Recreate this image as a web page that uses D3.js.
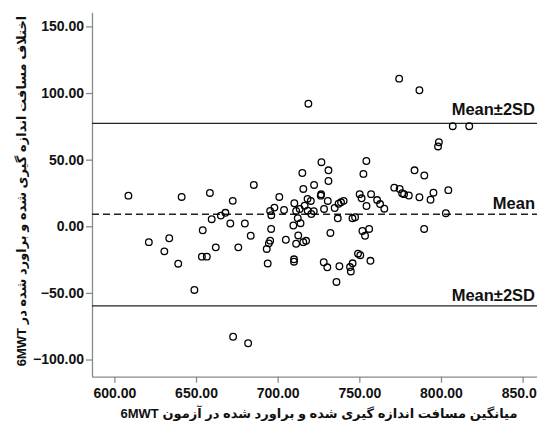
<!DOCTYPE html>
<html>
<head>
<meta charset="utf-8">
<script src="https://cdn.jsdelivr.net/npm/d3@7"></script>
<style>
  body { margin: 0; background: #fff; }
  text { font-family: "Liberation Sans", "DejaVu Sans", Arial, sans-serif; }
</style>
</head>
<body>
<div id="chart"></div>
<script>
// Bland-Altman plot: mean of measured & estimated 6MWT vs their difference

// x = mean of the two measurements, y = difference
const meanVals = [
  608.6, 621.1, 630.6, 633.6, 639.1, 641.2, 649.0, 654.1, 653.6, 656.6,
  658.5, 659.6, 662.1, 665.2, 668.0, 671.0, 672.5, 672.7, 675.9, 679.9,
  681.9, 683.5, 685.4, 693.3, 694.6, 695.4, 693.9, 695.4, 696.1, 698.0,
  701.0, 703.9, 696.0, 705.0, 710.2, 711.3, 712.3, 713.5, 709.6, 714.0,
  712.6, 711.3, 715.7, 717.4, 710.0, 710.0, 715.1, 715.7, 716.5, 718.3,
  720.3, 718.4, 722.1, 720.6, 718.8, 722.3, 726.8, 726.6, 726.4, 730.7,
  731.1, 731.1, 728.4, 734.9, 737.3, 738.8, 740.4, 732.3, 736.8, 745.8,
  747.4, 728.2, 730.4, 737.8, 744.3, 744.8, 745.9, 749.2, 750.6, 756.8,
  736.0, 750.2, 751.4, 752.5, 754.3, 754.4, 757.2, 760.9, 762.7, 765.3,
  751.9, 753.5, 756.0, 771.4, 774.7, 776.2, 777.4, 780.3, 783.8, 789.8,
  786.8, 795.4, 793.6, 804.5, 803.0, 789.7, 774.4, 786.8, 798.7, 798.2,
  807.2, 817.3
];
const diffVals = [
  23.0, -11.9, -18.8, -9.0, -28.1, 22.0, -47.8, -3.0, -22.8, -22.8,
  25.0, 5.3, -15.8, 8.0, 10.1, 2.1, 19.1, -82.9, -15.8, 2.1,
  -87.8, -7.1, 31.0, -17.0, -12.8, -10.8, -27.9, 11.5, 8.3, 14.0,
  22.0, 12.2, -2.0, -10.1, 17.3, 11.5, 6.1, 13.0, 0.6, 2.3,
  -6.9, -13.1, -11.9, -10.9, -24.8, -26.6, 40.0, 28.0, 15.5, 20.6,
  19.0, 11.7, 11.3, 9.2, 92.0, 31.0, 48.1, 24.0, 23.0, 19.0,
  42.0, 34.0, 13.0, 13.7, 16.9, 18.0, 19.1, -5.0, 6.0, 6.0,
  6.8, -27.0, -30.8, -30.0, -30.6, -33.9, -27.8, -20.6, -21.7, -25.9,
  -41.8, 24.1, 21.0, 39.3, 49.0, 15.2, 24.1, 19.7, 16.7, 13.2,
  -3.5, -7.1, -2.0, 29.0, 28.0, 24.8, 24.1, 23.1, 42.0, 38.1,
  21.8, 25.2, 19.9, 27.1, 9.8, -2.0, 110.8, 102.1, 63.1, 59.9,
  75.1, 75.1
];

const xTicks = [600, 650, 700, 750, 800, 850];
const yTicks = [-100, -50, 0, 50, 100, 150];

// reference lines: mean and mean +/- 2SD
const refValues = [77.3, 9.0, -59.8];
const refLabels = ["Mean±2SD", "Mean", "Mean±2SD"];
const refDashed = [false, true, false];

const xTitle = "میانگین مسافت اندازه گیری شده و براورد شده در آزمون 6MWT";
const yTitle = "اختلاف مسافت اندازه گیری شده و براورد شده در 6MWT";

const width = 537, height = 425;
const margin = { top: 12.3, right: 0, bottom: 48.3, left: 92 };

const svg = d3.select("#chart").append("svg")
  .attr("width", width)
  .attr("height", height);

const x = d3.scaleLinear()
  .domain([586.3, 858.8])
  .range([margin.left, width - margin.right]);

const y = d3.scaleLinear()
  .domain([-112.9, 160.6])
  .range([height - margin.bottom, margin.top]);

// axes
const xAxis = svg.append("g")
  .attr("transform", `translate(0,${height - margin.bottom})`)
  .call(d3.axisBottom(x).tickValues(xTicks).tickFormat(d3.format(".2f"))
    .tickSize(6).tickSizeOuter(0).tickPadding(5));

const yAxis = svg.append("g")
  .attr("transform", `translate(${margin.left},0)`)
  .call(d3.axisLeft(y).tickValues(yTicks).tickFormat(d3.format(".2f"))
    .tickSize(6).tickSizeOuter(0).tickPadding(2));

[xAxis, yAxis].forEach(g => {
  g.select(".domain").attr("stroke", "#8a8a8a").attr("stroke-width", 1.3);
  g.selectAll(".tick line").attr("stroke", "#8a8a8a").attr("stroke-width", 1.3);
  g.selectAll(".tick text")
    .attr("fill", "#111")
    .attr("font-size", "14px")
    .attr("font-weight", "bold")
    .style("font-family", "'Liberation Sans', Arial, sans-serif");
});

// reference lines
refValues.forEach((v, i) => {
  svg.append("line")
    .attr("x1", margin.left)
    .attr("x2", width - margin.right)
    .attr("y1", y(v))
    .attr("y2", y(v))
    .attr("stroke", "#222")
    .attr("stroke-width", refDashed[i] ? 1.5 : 1.2)
    .attr("stroke-dasharray", refDashed[i] ? "7,4" : null);

  svg.append("text")
    .attr("x", 535)
    .attr("y", y(v) - (i === 0 ? 8 : 5))
    .attr("text-anchor", "end")
    .attr("font-size", "16.5px")
    .attr("font-weight", "bold")
    .attr("fill", "#111")
    .text(refLabels[i]);
});

// points
svg.append("g")
  .selectAll("circle")
  .data(meanVals.map((m, i) => ({ m, d: diffVals[i] })))
  .join("circle")
  .attr("cx", p => x(p.m))
  .attr("cy", p => y(p.d))
  .attr("r", 3.3)
  .attr("fill", "none")
  .attr("stroke", "#000")
  .attr("stroke-width", 1.3);

// axis titles
svg.append("text")
  .attr("x", 319)
  .attr("y", 418)
  .attr("text-anchor", "middle")
  .attr("direction", "rtl")
  .attr("font-size", "13px")
  .attr("font-weight", "bold")
  .attr("fill", "#111")
  .text(xTitle);

svg.append("text")
  .attr("transform", "translate(26,191) rotate(-90)")
  .attr("text-anchor", "middle")
  .attr("direction", "rtl")
  .attr("font-size", "13px")
  .attr("font-weight", "bold")
  .attr("fill", "#111")
  .text(yTitle);
</script>
</body>
</html>
